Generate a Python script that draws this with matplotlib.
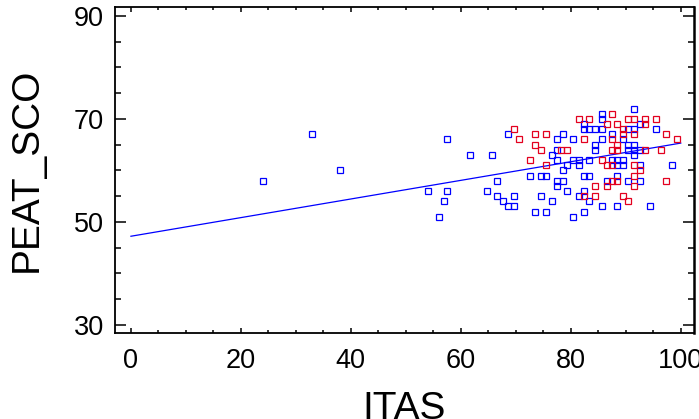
"""Scatter of PEAT_SCO against ITAS with two groups and a fitted line."""

import matplotlib

matplotlib.use("Agg")
import matplotlib.pyplot as plt
from matplotlib.ticker import MultipleLocator


# group 1 (blue squares)
BLUE_X = [
    24, 33, 38, 54, 56, 57, 57.5, 57.5, 61.6, 65.6, 64.7, 66.6, 66.6, 67.6, 68.6,
    69.6, 69.6, 68.6, 72.5, 74.5, 75.5, 74.5, 73.5, 75.5, 76.5, 77.5, 78.5, 76.5,
    77.4, 77.4, 78.5, 77.4, 78.5, 77.4, 79.3, 79.3,
    91.5, 85.6, 85.6, 82.4, 92.5, 82.4, 83.3, 84.4, 85.6, 90.4, 91.5, 95.5, 87.5,
    80.4, 85.6, 89.5, 84.4, 90.4, 91.5, 84.4, 90.4, 91.5, 92.5, 91.5, 80.4, 81.5,
    83.3, 87.5, 88.4, 89.5, 81.5, 88.4, 89.5, 92.5, 98.4, 82.4, 83.3, 88.4, 86.5,
    90.4, 92.5, 82.4, 81.5, 83.3, 85.6, 88.4, 94.4, 82.4, 80.4,
]
BLUE_Y = [
    58, 67, 60, 56, 51, 54, 56, 66, 63, 63, 56, 58, 55, 54, 53,
    53, 55, 67, 59, 59, 59, 55, 52, 52, 54, 66, 67, 63,
    64, 62, 60, 58, 58, 57, 56, 61,
    72, 71, 70, 69, 69, 68, 68, 68, 68, 68, 68, 68, 67,
    66, 66, 66, 65, 65, 65, 64, 64, 64, 64, 63, 62, 62,
    62, 62, 62, 62, 61, 61, 61, 61, 61, 59, 59, 59, 58,
    58, 58, 56, 55, 54, 53, 53, 53, 52, 51,
]

# group 2 (red squares)
RED_X = [
    69.6, 70.5, 73.5, 75.5, 73.5, 74.5, 72.5, 75.5, 78.3, 79.3,
    87.5, 81.5, 83.3, 90.4, 91.5, 93.5, 95.5, 86.5, 88.4, 93.5, 89.5, 89.5, 91.5,
    97.4, 82.4, 87.5, 99.3, 88.4, 87.5, 88.4, 93.5, 96.4, 85.6, 86.5, 87.5, 91.5,
    92.5, 91.5, 87.5, 88.4, 97.4, 84.4, 86.5, 91.5, 82.4, 84.4, 89.5, 90.4,
]
RED_Y = [
    68, 66, 67, 67, 65, 64, 62, 61, 64, 64,
    71, 70, 70, 70, 70, 70, 70, 69, 69, 69, 68, 67, 67,
    67, 66, 66, 66, 65, 64, 64, 64, 64, 62, 61, 61, 61,
    60, 59, 58, 58, 58, 57, 57, 57, 55, 55, 55, 54,
]

# fitted line, end points
FIT_X = [0, 100]
FIT_Y = [47.2, 65.3]

X_TICKS = [0, 20, 40, 60, 80, 100]
Y_TICKS = [30, 50, 70, 90]

BLUE = "#0000ff"
RED = "#e3001f"

plt.rcParams["font.family"] = ["Liberation Sans", "DejaVu Sans"]

fig = plt.figure(figsize=(6.99, 4.19), dpi=100)
ax = fig.add_axes([0.1645, 0.2053, 0.8283, 0.778])

ax.plot(FIT_X, FIT_Y, color=BLUE, linewidth=0.9)
ax.plot(BLUE_X, BLUE_Y, "s", markersize=4.7, markerfacecolor="none",
        markeredgecolor=BLUE, markeredgewidth=0.9)
ax.plot(RED_X, RED_Y, "s", markersize=4.7, markerfacecolor="none",
        markeredgecolor=RED, markeredgewidth=0.9)

ax.set_xlim(-2.9, 102.4)
ax.set_ylim(28.4, 91.75)

ax.set_xticks(X_TICKS)
ax.set_yticks(Y_TICKS)
ax.xaxis.set_minor_locator(MultipleLocator(5))
ax.yaxis.set_minor_locator(MultipleLocator(5))

ax.tick_params(which="both", direction="in", top=True, right=True,
               width=1.1, colors="black")
ax.tick_params(axis="x", which="major", length=3.5, pad=11, labelsize=19.5)
ax.tick_params(axis="x", which="minor", length=2.5)
ax.tick_params(axis="y", which="major", length=8, pad=8, labelsize=19.5)
ax.tick_params(axis="y", which="minor", length=4)

for spine in ax.spines.values():
    spine.set_linewidth(1.3)
ax.spines["right"].set_linewidth(1.8)

ax.set_xlabel("ITAS", fontsize=28, labelpad=12)
ax.set_ylabel("PEAT_SCO", fontsize=28, labelpad=21)

fig.savefig("out.png", dpi=100)
